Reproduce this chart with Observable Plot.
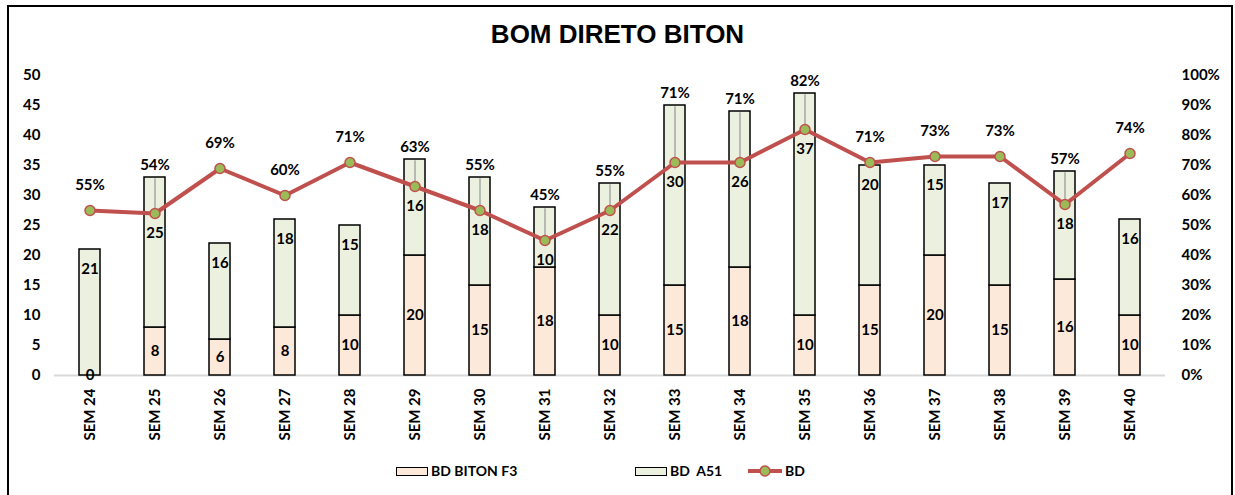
<!DOCTYPE html>
<html><head><meta charset="utf-8">
<script src="https://cdn.jsdelivr.net/npm/d3@7"></script>
<script src="https://cdn.jsdelivr.net/npm/@observablehq/plot@0.6"></script>
<style>
body{margin:0;background:#fff;}
#wrap{position:relative;width:1235px;height:495px;overflow:hidden;font-family:Lato,sans-serif;background:#fff;}
#border{position:absolute;left:7px;top:5px;width:1226px;height:500px;border:2px solid #000;box-sizing:border-box;}
#title{position:absolute;left:0;top:19px;width:1235px;text-align:center;font:bold 26px "Liberation Sans",Arial,sans-serif;line-height:30px;color:#000;}
#chart{position:absolute;left:0;top:60px;}
.lg{position:absolute;top:463px;font:bold 14px Lato,sans-serif;line-height:16px;color:#000;white-space:pre;}
.sw{position:absolute;top:467px;height:9px;border:1.5px solid #000;box-sizing:border-box;}
</style></head>
<body>
<div id="wrap">
  <div id="border"></div>
  <div id="title">BOM DIRETO BITON</div>
  <div id="chart"></div>
  <div class="sw" style="left:396px;width:32px;background:#FDE9D9"></div>
  <div class="lg" style="left:431px">BD BITON F3</div>
  <div class="sw" style="left:635px;width:32px;background:#EBF1DE"></div>
  <div class="lg" style="left:670px">BD  A51</div>
  <svg style="position:absolute;left:746px;top:463px" width="38" height="16">
    <line x1="2" y1="8" x2="36" y2="8" stroke="#C0504D" stroke-width="4"/>
    <circle cx="19" cy="8" r="5" fill="#9BBB59" stroke="#C0504D" stroke-width="1.5"/>
  </svg>
  <div class="lg" style="left:785px">BD</div>
</div>
<script>
const weeks = ["SEM 24","SEM 25","SEM 26","SEM 27","SEM 28","SEM 29","SEM 30","SEM 31","SEM 32","SEM 33","SEM 34","SEM 35","SEM 36","SEM 37","SEM 38","SEM 39","SEM 40"];
const bitonF3 = [0,8,6,8,10,20,15,18,10,15,18,10,15,20,15,16,10];
const bdA51 = [21,25,16,18,15,16,18,10,22,30,26,37,20,15,17,18,16];
const bdPct = [55,54,69,60,71,63,55,45,55,71,71,82,71,73,73,57,74];
const leftTicks = [0,5,10,15,20,25,30,35,40,45,50];

const rows = weeks.map((w,i)=>{
  const total = bitonF3[i]+bdA51[i];
  const py = bdPct[i]/2;
  const labY = Math.max(py+4.2, total+2);
  return {week:w, f3:bitonF3[i], a51:bdA51[i], total, pct:bdPct[i], py, labY,
          a51Y: Math.min(total, py), leader: total+2 > py+4.2};
});

const chart = Plot.plot({
  width:1235, height:380,
  marginTop:15, marginBottom:65, marginLeft:54, marginRight:70,
  x:{domain:weeks, paddingInner:0.68, paddingOuter:0.34, label:null},
  y:{domain:[0,50], label:null},
  style:{fontFamily:"Lato, sans-serif", fontWeight:700, fontSize:"15px", color:"#000", background:"transparent", overflow:"visible"},
  marks:[
    Plot.ruleY([0], {stroke:"#d9d9d9", strokeWidth:2}),
    Plot.barY(rows, {x:"week", y1:0, y2:"f3", fill:"#FDE9D9", stroke:"#000", strokeWidth:1.5}),
    Plot.barY(rows, {x:"week", y1:"f3", y2:"total", fill:"#EBF1DE", stroke:"#000", strokeWidth:1.5}),
    Plot.axisY({anchor:"left", ticks:leftTicks, tickSize:0, tickPadding:14, fontSize:15, label:null}),
    Plot.axisY({anchor:"right", ticks:leftTicks, tickFormat:d=>(d*2)+"%", tickSize:0, tickPadding:16, fontSize:15, label:null}),
    Plot.axisX({tickRotate:-90, tickSize:0, tickPadding:13, fontSize:15, label:null}),
    Plot.text(rows, {x:"week", y:d=>d.f3/2, text:"f3", fontSize:15, fill:"#000"}),
    Plot.text(rows, {x:"week", y:"a51Y", text:"a51", dy:20, fontSize:15, fill:"#000"}),
    Plot.ruleX(rows.filter(d=>d.leader), {x:"week", y1:d=>d.labY-2.2, y2:"py", stroke:"#A6A6A6", strokeWidth:1.5}),
    Plot.line(rows, {x:"week", y:"py", stroke:"#C0504D", strokeWidth:4}),
    Plot.dot(rows, {x:"week", y:"py", r:5, fill:"#9BBB59", stroke:"#C0504D", strokeWidth:1.5}),
    Plot.text(rows, {x:"week", y:"labY", text:d=>d.pct+"%", fontSize:15, fill:"#000"})
  ]
});
document.getElementById("chart").appendChild(chart);
</script>
</body></html>
